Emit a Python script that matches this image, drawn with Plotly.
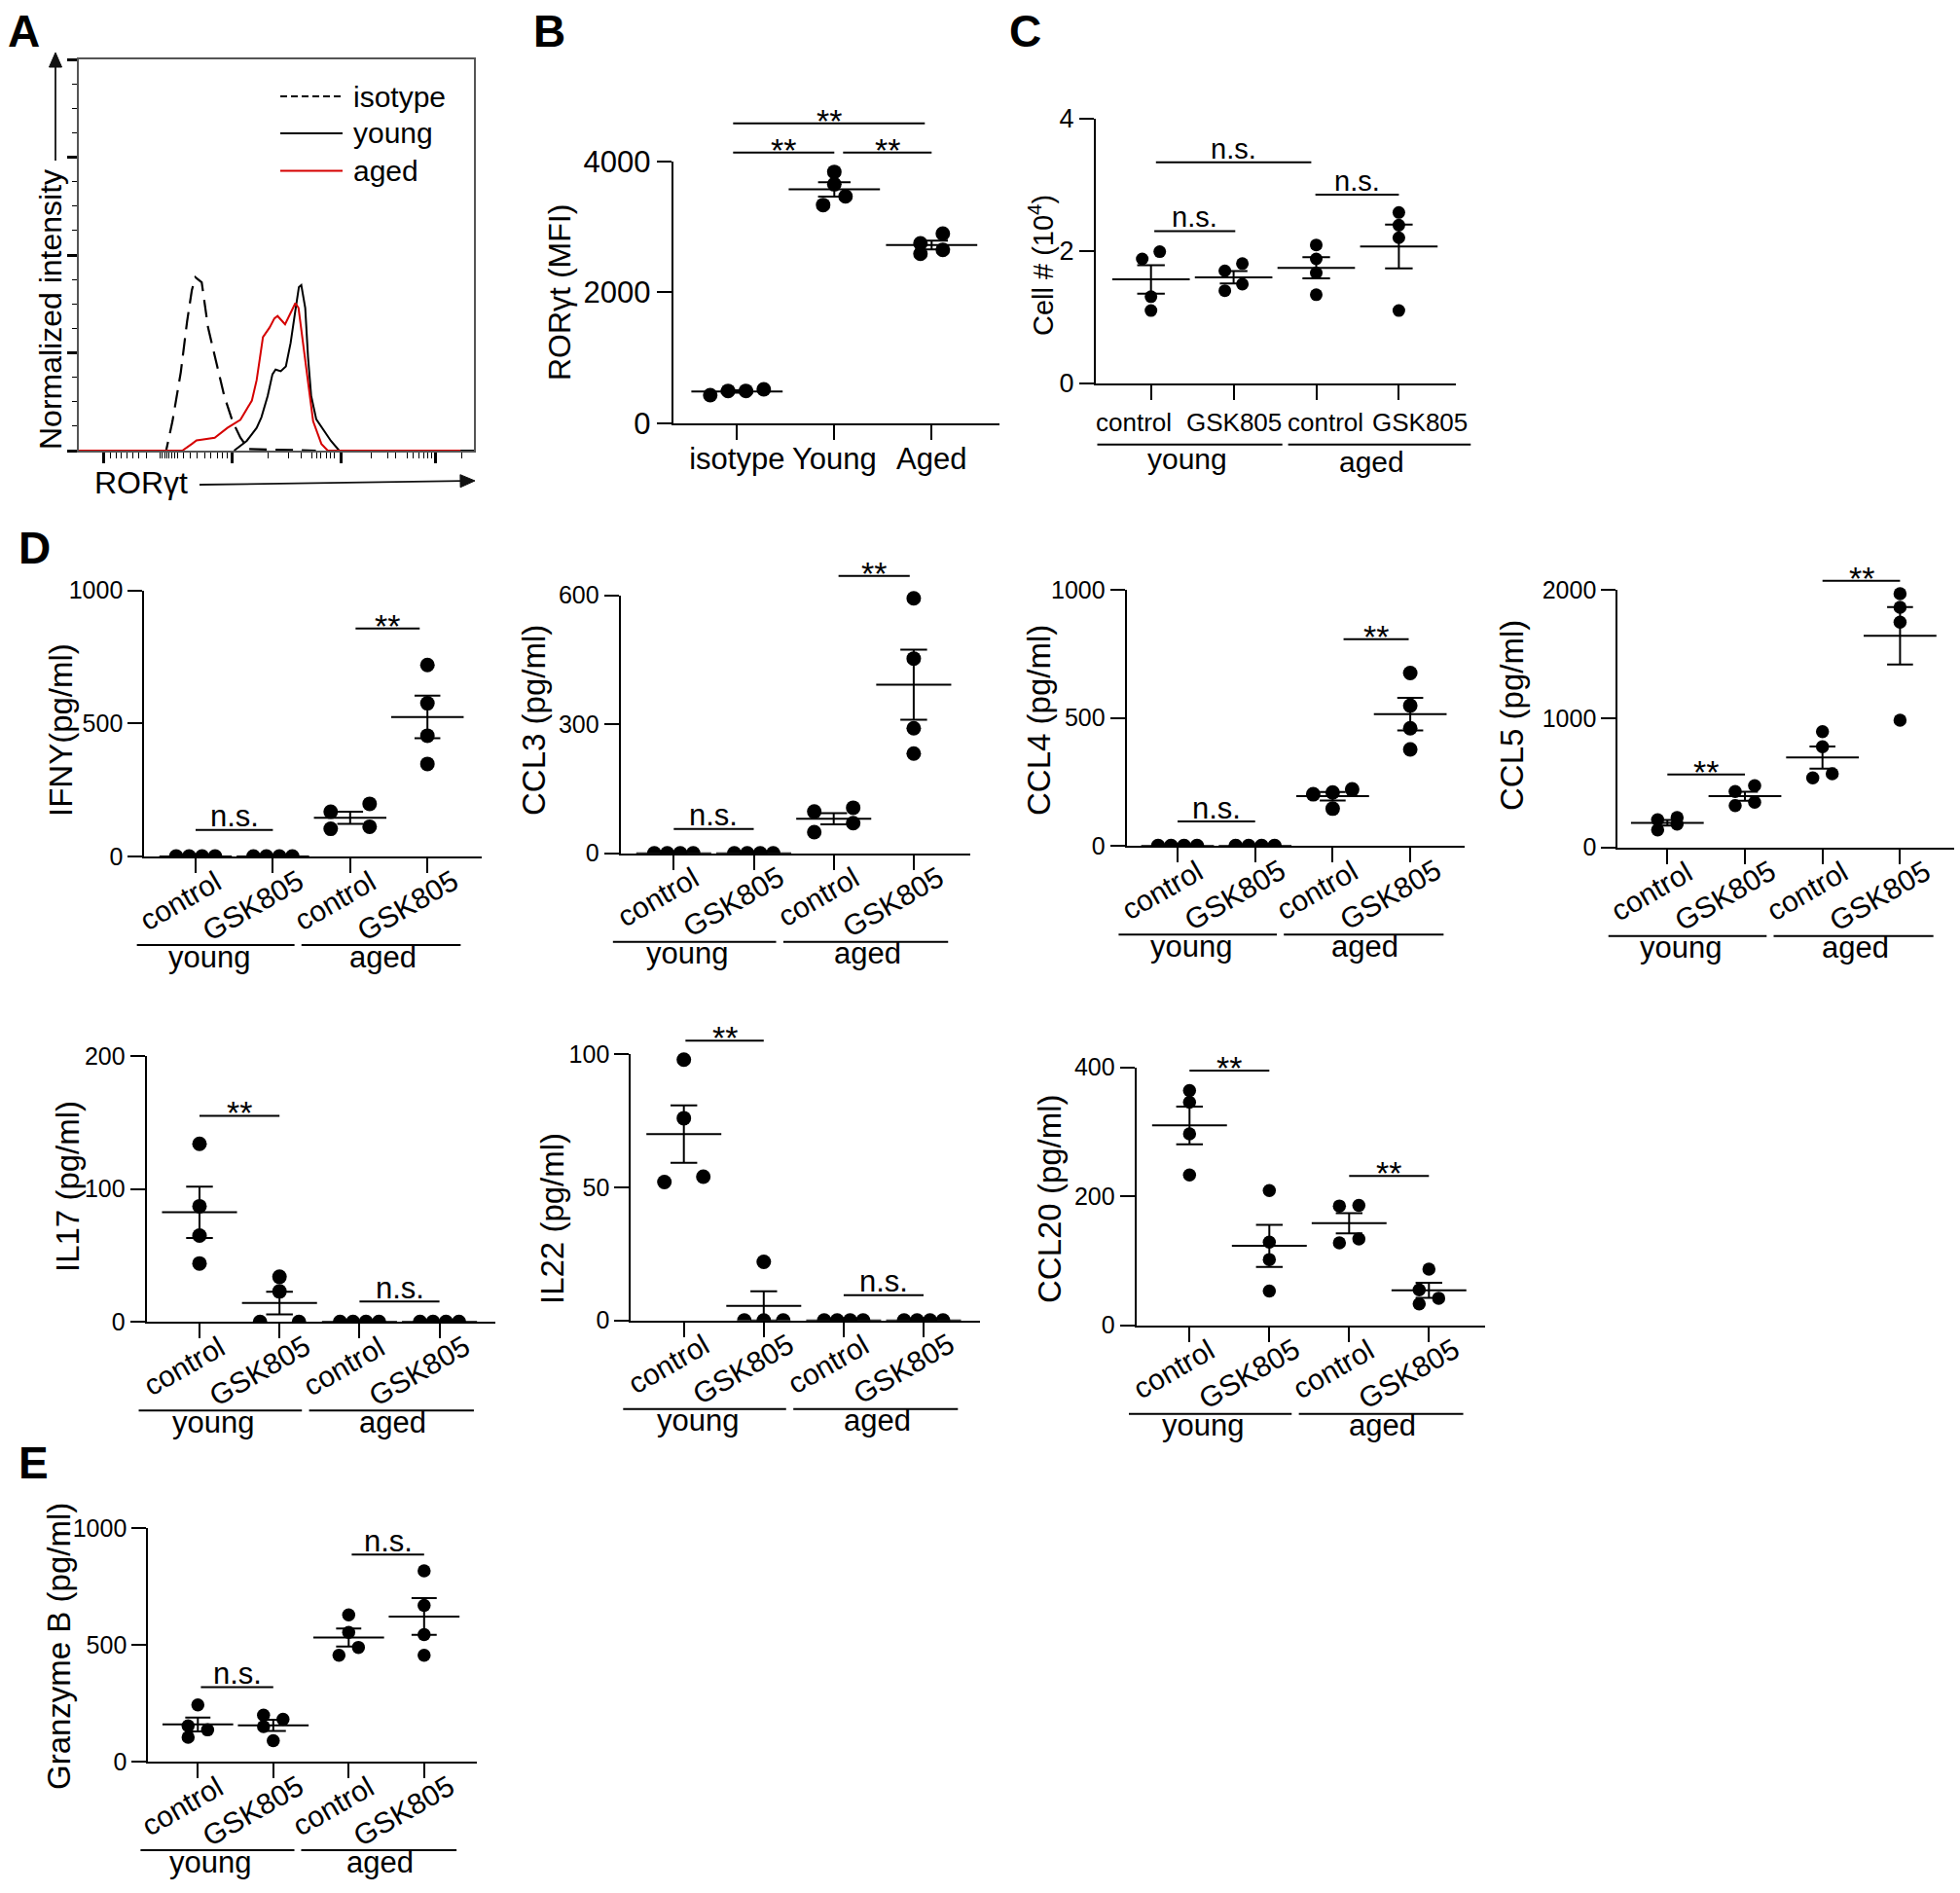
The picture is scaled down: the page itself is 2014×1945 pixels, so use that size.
"""Multi-panel RORgt / cytokine figure rebuilt with plotly."""

import numpy as np
import plotly.graph_objects as go

W, H = 2014, 1945
FONT = "Liberation Sans, Arial, sans-serif"

# ---------------- data ----------------
# A: RORgt histograms (channel 0-1000, % of max)
iso_channel = [0, 221, 237, 258, 274, 286, 295, 311, 327, 344, 368, 389, 409, 430, 600]
iso_pct = [0, 0, 7.5, 20, 33, 41, 44.3, 43, 31.5, 24, 14, 7.5, 3.3, 0.4, 0]
young_channel = [393, 425, 450, 462, 478, 490, 498, 511, 524, 536, 548, 557, 563, 573, 580,
                 588, 601, 622, 638, 659, 1000]
young_pct = [0, 2.5, 5.8, 8.5, 14, 19.5, 20.7, 20.3, 21.5, 27.5, 35.8, 41.8, 42.3, 36.5, 24,
             14, 8, 5, 2.5, 0, 0]
aged_channel = [0, 262, 286, 298, 311, 344, 376, 409, 438, 450, 458, 466, 483, 495, 503, 522,
                536, 548, 556, 565, 577, 593, 614, 630, 966]
aged_pct = [0, 0, 1.7, 2.6, 2.8, 3.3, 5.8, 7.9, 12.8, 18, 23.5, 29, 31.5, 33.8, 34.4, 32.3,
            35.2, 37.7, 36.5, 30, 20, 7.5, 1.7, 0, 0]
hist_major = [63, 387, 665, 903]
hist_minor = [80, 94, 108, 123, 137, 152, 170, 205, 211, 217, 224, 229, 236, 242, 249, 264,
              281, 300, 318, 334, 350, 363, 375, 478, 531, 562, 589, 601, 613, 626, 636, 646,
              741, 781, 802, 831, 847, 860, 872, 884, 892, 970]

# B: RORgt MFI
b_groups = ["isotype", "Young", "Aged"]
b_mfi = [[431, 520, 495, 495], [3837, 3649, 3465, 3332], [2748, 2896, 2589, 2649]]

# C / D / E: four groups each (young control, young GSK805, aged control, aged GSK805)
treatments = ["control", "GSK805", "control", "GSK805"]
ages = ["young", "aged"]
c_cells = [[1.88, 1.99, 1.31, 1.10], [1.70, 1.81, 1.40, 1.50],
           [2.09, 1.88, 1.67, 1.34], [2.58, 2.39, 2.20, 1.10]]
ifng = [[0, 0, 0, 0], [0, 0, 0, 0], [168, 198, 104, 112], [720, 576, 454, 348]]
ccl3 = [[0, 0, 0, 0], [0, 0, 0, 0], [97, 106, 49, 70], [593, 453, 291, 232]]
ccl4 = [[0, 0, 0, 0], [0, 0, 0, 0], [221, 209, 202, 146], [675, 548, 460, 377]]
ccl5 = [[232, 215, 181, 136], [434, 479, 325, 351], [899, 781, 540, 572], [1970, 1864, 1749, 988]]
il17 = [[134, 87, 65, 44], [34, 23, 0, 0], [0, 0, 0, 0], [0, 0, 0, 0]]
il22 = [[98, 76, 52, 54], [22, 0, 0, 0], [0, 0, 0, 0], [0, 0, 0, 0]]
ccl20 = [[364, 346, 297, 233], [209, 129, 102, 53], [185, 186, 128, 134], [87, 55, 42, 33]]
gzmb = [[243, 153, 136, 104], [181, 199, 150, 90], [628, 553, 489, 455], [817, 669, 544, 455]]


def pxx(px):
    return px / W


def pxy(py):
    return 1 - py / H


def swarm(vals, ppu, dot, w_pair, w_row, gap=11):
    """GraphPad-like spreading of overlapping dots, offsets in px."""
    vals = np.asarray(vals, float)
    order = np.argsort(vals, kind="stable")
    py = vals * ppu
    clusters, cur = [], [order[0]]
    for a, b in zip(order[:-1], order[1:]):
        if py[b] - py[a] < gap:
            cur.append(b)
        else:
            clusters.append(cur)
            cur = [b]
    clusters.append(cur)
    off = np.zeros(len(vals))
    for cl in clusters:
        k = len(cl)
        if k == 1:
            continue
        span = py[cl[-1]] - py[cl[0]]
        if k == 2:
            off[cl[0]], off[cl[1]] = -w_pair / 2, w_pair / 2
        elif span > 0.8 * dot:
            for j, idx in enumerate(cl):
                off[idx] = (-0.5 if j % 2 == 0 else 0.5) * w_pair
        else:
            for j, idx in enumerate(cl):
                off[idx] = (j - (k - 1) / 2) * w_row / (k - 1)
    return off


fig = go.Figure()
axes = {}
shapes = []
annots = []


def text(x, y, s, size=31, angle=0, xanchor="center", **kw):
    annots.append(dict(x=x, y=y, text=s, showarrow=False, textangle=angle, xanchor=xanchor,
                       yanchor="middle", font=dict(family=FONT, size=size, color="black"), **kw))


def dot_panel(n, groups, g):
    step = g["step"]
    xr = [(g["left"] - g["c0"]) / step, (g["right"] - g["c0"]) / step]
    hpx = g["y0"] - g["ytop"]
    ppu = hpx / g["ymax"]
    axes[f"xaxis{n}"] = dict(
        domain=[pxx(g["left"]), pxx(g["right"])], range=xr, anchor=f"y{n}",
        showline=True, linewidth=2, linecolor="black", ticks="outside", ticklen=15,
        tickwidth=2, tickcolor="black", tickvals=list(range(len(groups))),
        showticklabels=False, showgrid=False, zeroline=False, automargin=False)
    axes[f"yaxis{n}"] = dict(
        domain=[pxy(g["y0"]), pxy(g["ytop"])], range=[0, g["ymax"]], anchor=f"x{n}",
        showline=True, linewidth=2, linecolor="black", ticks="outside", ticklen=15,
        tickwidth=2, tickcolor="black", tickvals=g["yticks"], showgrid=False, zeroline=False,
        automargin=False, tickfont=dict(family=FONT, size=g.get("tsize", 25), color="black"))
    xs, ys, means, sems = [], [], [], []
    for i, vals in enumerate(groups):
        off = swarm(vals, ppu, g["dot"], g["w_pair"], g["w_row"])
        xs += [i + o / step for o in off]
        ys += list(vals)
        means.append(np.mean(vals))
        sems.append(np.std(vals, ddof=1) / np.sqrt(len(vals)))
    xs, ys = np.array(xs), np.array(ys, float)
    # dots sitting on the x axis are cut by it, the others are drawn whole
    for keep, clip in [(ys > 0, False), (ys <= 0, True)]:
        fig.add_trace(go.Scatter(x=xs[keep], y=ys[keep], mode="markers", cliponaxis=clip,
                                 xaxis=f"x{n}", yaxis=f"y{n}",
                                 marker=dict(size=g["dot"], color="black")))
    fig.add_trace(go.Scatter(
        x=list(range(len(groups))), y=means, mode="markers", xaxis=f"x{n}", yaxis=f"y{n}",
        marker=dict(symbol="line-ew", size=0.67 * step, color="black",
                    line=dict(width=2, color="black")),
        error_y=dict(type="data", array=sems, width=0.167 * step, thickness=2, color="black")))
    # significance brackets
    for x0, x1, level, s in g["brackets"]:
        yd = level / g["ymax"]
        shapes.append(dict(type="line", xref=f"x{n}", yref=f"y{n} domain", x0=x0, x1=x1,
                           y0=yd, y1=yd, line=dict(color="black", width=2)))
        star = s.startswith("*")
        annots.append(dict(x=(x0 + x1) / 2, y=yd, xref=f"x{n}", yref=f"y{n} domain", text=s,
                           showarrow=False, yanchor="middle", yshift=3 if star else 14,
                           font=dict(family=FONT, size=(34 if star else g.get("ns", 31)),
                                     color="black")))
    # y title
    text(pxx(g["title_xy"][0]), pxy(g["title_xy"][1]), g["title"], size=g.get("title_size", 33),
         angle=-90, xref="paper", yref="paper")
    return xr, hpx


def group_rows(n, xr, hpx, lines, labels, line_off, label_off, size=31):
    for (a, b) in lines:
        shapes.append(dict(type="line", xref=f"x{n} domain", yref=f"y{n} domain",
                           x0=(a - xr[0]) / (xr[1] - xr[0]), x1=(b - xr[0]) / (xr[1] - xr[0]),
                           y0=-line_off / hpx, y1=-line_off / hpx,
                           line=dict(color="black", width=2)))
    for (xc, s, yoff) in zip(labels, ages, label_off):
        annots.append(dict(x=xc, y=0, xref=f"x{n}", yref=f"y{n} domain", text=s, showarrow=False,
                           yanchor="middle", yshift=-yoff,
                           font=dict(family=FONT, size=size, color="black")))


def arrow(tail, tip, head=15, half=6.5):
    (x0, y0), (x1, y1) = tail, tip
    d = np.hypot(x1 - x0, y1 - y0)
    ux, uy = (x1 - x0) / d, (y1 - y0) / d
    bx, by = x1 - ux * head, y1 - uy * head
    shapes.append(dict(type="line", xref="paper", yref="paper", x0=pxx(x0), y0=pxy(y0),
                       x1=pxx(bx + ux * 2), y1=pxy(by + uy * 2),
                       line=dict(color="#111", width=1.8)))
    pts = [(x1, y1), (bx - uy * half, by + ux * half), (bx + uy * half, by - ux * half)]
    path = "M " + " L ".join(f"{pxx(a):.5f},{pxy(b):.5f}" for a, b in pts) + " Z"
    shapes.append(dict(type="path", xref="paper", yref="paper", path=path,
                       fillcolor="#111", line=dict(color="#111", width=1)))


# ---------------- panel A ----------------
fig.add_trace(go.Scatter(x=iso_channel, y=iso_pct, mode="lines", xaxis="x", yaxis="y",
                         line=dict(color="black", width=2.2, dash="18px,9px")))
fig.add_trace(go.Scatter(x=young_channel, y=young_pct, mode="lines", xaxis="x", yaxis="y",
                         line=dict(color="black", width=2)))
fig.add_trace(go.Scatter(x=aged_channel, y=aged_pct, mode="lines", xaxis="x", yaxis="y",
                         line=dict(color="#d50000", width=2)))
axes["xaxis"] = dict(domain=[pxx(81), pxx(487)], range=[0, 1000], anchor="y", showline=True,
                     mirror=True, linecolor="#555", linewidth=1.5, ticks="outside",
                     tickvals=hist_major, ticklen=11, tickwidth=2.5, tickcolor="black",
                     showticklabels=False, showgrid=False, zeroline=False, automargin=False,
                     minor=dict(ticks="outside", tickmode="array", tickvals=hist_minor,
                                ticklen=6, tickwidth=1.3, tickcolor="black"))
axes["yaxis"] = dict(domain=[pxy(463), pxy(61)], range=[0, 100], anchor="x", showline=True,
                     mirror=True, linecolor="#555", linewidth=1.5, ticks="outside",
                     tickvals=[0, 25, 50, 75, 100], ticklen=10, tickwidth=2.5, tickcolor="black",
                     showticklabels=False, showgrid=False, zeroline=False, automargin=False,
                     minor=dict(ticks="outside", dtick=6.25, ticklen=5, tickwidth=1.3,
                                tickcolor="black"))
# legend
for yy, dash, col, s in [(99, "7px,4px", "black", "isotype"), (137, "solid", "black", "young"),
                         (175.5, "solid", "#d50000", "aged")]:
    shapes.append(dict(type="line", xref="paper", yref="paper", x0=pxx(288), x1=pxx(352),
                       y0=pxy(yy), y1=pxy(yy), line=dict(color=col, width=2, dash=dash)))
    text(pxx(361), pxy(yy), s, size=30, xanchor="left", xref="paper", yref="paper")
text(pxx(52), pxy(318), "Normalized intensity", size=32, angle=-90, xref="paper", yref="paper")
text(pxx(145), pxy(496), "RORγt", size=32, xref="paper", yref="paper")
arrow((205, 498), (488, 494))
arrow((57, 165), (57, 54))

# ---------------- panel B ----------------
gb = dict(left=691.7, right=1027, c0=757.3, step=100, y0=435, ytop=165.7, ymax=4000,
          yticks=[0, 2000, 4000], dot=15, w_pair=23, w_row=55, tsize=31,
          title="RORγt (MFI)", title_xy=(575, 301), title_size=32,
          brackets=[(-0.04, 1.0, 4134, "**"), (1.09, 2.0, 4134, "**"), (-0.04, 1.93, 4579, "**")])
dot_panel(2, b_mfi, gb)
axes["xaxis2"].update(showticklabels=True, ticktext=b_groups, ticklabelstandoff=-7,
                      tickfont=dict(family=FONT, size=31, color="black"))

# ---------------- panel C ----------------
gc = dict(left=1126, right=1496, c0=1182.7, step=84.9, y0=394, ytop=121.7, ymax=4,
          yticks=[0, 2, 4], dot=13, w_pair=18, w_row=18, tsize=27, ns=29,
          title="Cell # (10<sup>4</sup>)", title_xy=(1070, 273), title_size=29,
          brackets=[(0.04, 1.02, 2.30, "n.s."), (0.06, 1.94, 3.34, "n.s."),
                    (1.99, 3.0, 2.85, "n.s.")])
xr_c, h_c = dot_panel(3, c_cells, gc)
for i, (s, dx) in enumerate(zip(treatments, [-18, 0, 9, 22])):
    annots.append(dict(x=i, y=0, xref="x3", yref="y3 domain", text=s, showarrow=False,
                       yanchor="middle", yshift=-40, xshift=dx,
                       font=dict(family=FONT, size=26, color="black")))
group_rows(3, xr_c, h_c, [(-0.65, 1.59), (1.66, 3.87)], [0.44, 2.67], 62.7, [78, 81], size=30)

# ---------------- panels D / E ----------------
panels = [
    (4, ifng, dict(left=148.3, right=495, c0=201, step=79.4, y0=880, ytop=606.7, ymax=1000,
                   yticks=[0, 500, 1000], w=40, title="IFNY(pg/ml)", title_xy=(62, 750),
                   brackets=[(0, 1, 100, "n.s."), (2.07, 2.9, 857, "**")])),
    (5, ccl3, dict(left=637.7, right=996.7, c0=692.3, step=82.2, y0=876.7, ytop=611.7, ymax=600,
                   yticks=[0, 300, 600], w=40, title="CCL3 (pg/ml)", title_xy=(548, 740),
                   brackets=[(0, 1, 56.6, "n.s."), (2.06, 2.95, 645, "**")])),
    (6, ccl4, dict(left=1157.7, right=1505, c0=1210, step=79.7, y0=869.3, ytop=606, ymax=1000,
                   yticks=[0, 500, 1000], w=40, title="CCL4 (pg/ml)", title_xy=(1067, 740),
                   brackets=[(0, 1, 96, "n.s."), (2.14, 2.98, 807, "**")])),
    (7, ccl5, dict(left=1662.3, right=2008.3, c0=1713.3, step=79.7, y0=870.7, ytop=606,
                   ymax=2000, yticks=[0, 1000, 2000], w=20, title="CCL5 (pg/ml)",
                   title_xy=(1553, 735),
                   brackets=[(0, 1, 567, "**"), (2, 3, 2070, "**")])),
    (8, il17, dict(left=150.7, right=509.3, c0=205, step=82.2, y0=1358.3, ytop=1085, ymax=200,
                   yticks=[0, 100, 200], w=40, title="IL17 (pg/ml)", title_xy=(69, 1219),
                   brackets=[(0, 1, 155, "**"), (2, 3, 15.4, "n.s.")])),
    (9, il22, dict(left=648.3, right=1006.7, c0=702.7, step=82.1, y0=1356.7, ytop=1083.3,
                   ymax=100, yticks=[0, 50, 100], w=40, title="IL22 (pg/ml)",
                   title_xy=(567, 1252),
                   brackets=[(0.02, 1, 105.1, "**"), (2, 3, 9.5, "n.s.")])),
    (10, ccl20, dict(left=1167.7, right=1526, c0=1222.3, step=82, y0=1361.7, ytop=1096.7,
                     ymax=400, yticks=[0, 200, 400], w=20, title="CCL20 (pg/ml)",
                     title_xy=(1078, 1232),
                     brackets=[(0, 1, 395, "**"), (2, 3, 231.5, "**")])),
    (11, gzmb, dict(left=152.3, right=490, c0=203.3, step=77.5, y0=1810, ytop=1570, ymax=1000,
                    yticks=[0, 500, 1000], w=20, title="Granzyme B (pg/ml)",
                    title_xy=(60, 1692),
                    brackets=[(0.04, 1, 319, "n.s."), (2.04, 3, 886, "n.s.")])),
]
for n, vals, g in panels:
    g.update(dot=15 if g["w"] == 40 else 13.5, w_pair=g["w"], w_row=g["w"])
    xr, hpx = dot_panel(n, vals, g)
    for i, s in enumerate(treatments):
        ctrl = s == "control"
        annots.append(dict(x=i, y=0, xref=f"x{n}", yref=f"y{n} domain", text=s,
                           showarrow=False, textangle=-30, xanchor="center", yanchor="middle",
                           xshift=-16 if ctrl else -21, yshift=-45 if ctrl else -50,
                           font=dict(family=FONT, size=30, color="black")))
    group_rows(n, xr, hpx, [(-0.76, 1.28), (1.37, 3.43)], [0.17, 2.42], 91, [103, 103])

# panel letters
for s, (x, y) in zip("ABCDE", [(24, 32), (564, 32), (1053, 32), (35, 563), (34, 1503)]):
    text(pxx(x), pxy(y), f"<b>{s}</b>", size=46, xref="paper", yref="paper")

fig.update_layout(
    width=W, height=H, margin=dict(l=0, r=0, t=0, b=0, autoexpand=False),
    paper_bgcolor="white", plot_bgcolor="white", showlegend=False,
    font=dict(family=FONT, color="black"),
    shapes=shapes, annotations=annots, **axes)

# the page's default body margin would push the figure 8px down and right
fig.write_html("out.html", config={"displayModeBar": False},
               post_script="document.body.style.margin = '0';")
